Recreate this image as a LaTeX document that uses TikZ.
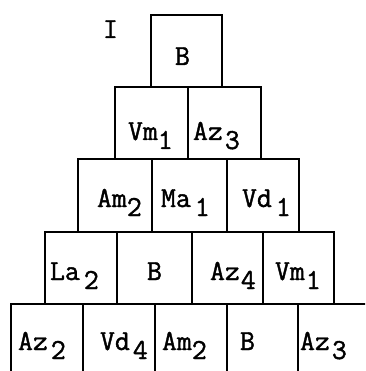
\documentclass[tikz,border=0pt]{standalone}
\usepackage{fontspec}
\usepackage{tikz}

\newfontfamily\typew[FakeBold=1.4]{Latin Modern Mono}
\newcommand{\dn}[1]{\raisebox{-9pt}{#1}}

\begin{document}
\begin{tikzpicture}[
  x=1pt,
  y=-1pt,
  line width=2pt,
  cell/.style={draw, rectangle, minimum width=#1, minimum height=72pt, inner sep=0pt},
  cell/.default=72pt,
  tag/.style={anchor=base west, inner sep=0pt, font=\fontsize{29}{29}\selectfont\typew}
]
\useasboundingbox (0,0) rectangle (365,371);
\clip (0,0) rectangle (365,371);

% row 1
\node[cell=71pt] (r1a) at (186.5,51) {};
% row 2
\node[cell=73pt] (r2a) at (151.5,123) {};
\node[cell=73pt] (r2b) at (224.5,123) {};
% row 3
\node[cell=74pt] (r3a) at (115,195.5) {};
\node[cell=75pt] (r3b) at (189.5,195.5) {};
\node[cell=72pt] (r3c) at (263,195.5) {};
% row 4
\node[cell] (r4a) at (81,268) {};
\node[cell=75pt] (r4b) at (154.5,268) {};
\node[cell=71pt] (r4c) at (227.5,268) {};
\node[cell=71pt] (r4d) at (298.5,268) {};
% row 5
\node[cell] (r5a) at (47,340) {};
\node[cell] (r5b) at (119,340) {};
\node[cell] (r5c) at (191,340) {};
\node[cell=71pt] (r5d) at (262.5,340) {};
\node[cell] (r5e) at (334,340) {};

\node[tag] (num) at (102,38) {I};

\node[tag] (t1a) at (174,65) {B};

\node[tag] (t2a) at (127,140) {Vm\dn{1}};
\node[tag] (t2b) at (192,140) {Az\hspace{2pt}\dn{3}};

\node[tag] (t3a) at (96,207) {Am\dn{2}};
\node[tag] (t3b) at (160,207) {Ma\hspace{4pt}\dn{1}};
\node[tag] (t3c) at (241,207) {Vd\hspace{4pt}\dn{1}};

\node[tag] (t4a) at (49,280) {La\hspace{4pt}\dn{2}};
\node[tag] (t4b) at (146,280) {B};
\node[tag] (t4c) at (209,280) {Az\hspace{1pt}\dn{4}};
\node[tag] (t4d) at (274,280) {Vm\hspace{1pt}\dn{1}};

\node[tag] (t5a) at (17,350) {Az\hspace{3pt}\dn{2}};
\node[tag] (t5b) at (99,350) {Vd\hspace{3pt}\dn{4}};
\node[tag] (t5c) at (161,350) {Am\dn{2}};
\node[tag] (t5d) at (239,350) {B};
\node[tag] (t5e) at (299,350) {Az\hspace{2pt}\dn{3}};
\end{tikzpicture}
\end{document}
